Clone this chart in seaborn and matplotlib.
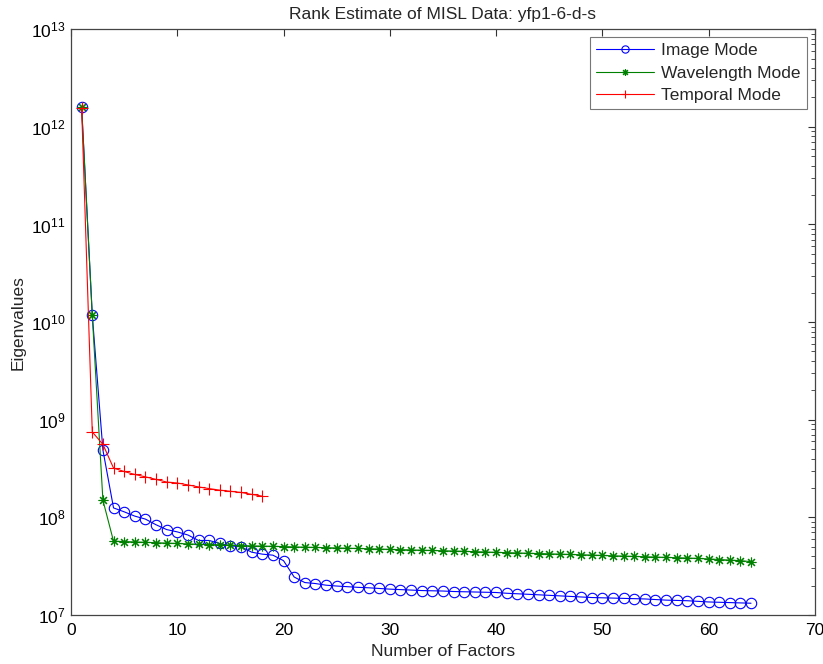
import matplotlib
matplotlib.use("Agg")
import matplotlib.pyplot as plt
import seaborn as sns
import numpy as np
import pandas as pd
from matplotlib.ticker import LogLocator, NullFormatter

# ---- data ----
image_x = list(range(1, 65))
image_vals = [1.58e12, 1.18e10, 4.9e8, 1.25e8, 1.14e8, 1.03e8, 9.6e7, 8.4e7, 7.5e7, 7.1e7,
              6.6e7, 5.8e7, 5.8e7, 5.4e7, 5.1e7, 5.0e7, 4.4e7, 4.2e7, 4.1e7, 3.6e7,
              2.45e7, 2.15e7, 2.1e7, 2.02e7, 1.98e7, 1.95e7, 1.92e7, 1.9e7, 1.87e7, 1.84e7,
              1.82e7, 1.8e7, 1.78e7, 1.77e7, 1.76e7, 1.74e7, 1.73e7, 1.72e7, 1.71e7, 1.7e7,
              1.67e7, 1.65e7, 1.63e7, 1.61e7, 1.59e7, 1.57e7, 1.55e7, 1.53e7, 1.51e7, 1.5e7,
              1.49e7, 1.48e7, 1.47e7, 1.46e7, 1.44e7, 1.42e7, 1.41e7, 1.4e7, 1.38e7, 1.36e7,
              1.35e7, 1.34e7, 1.33e7, 1.32e7]

wave_x = list(range(1, 65))
wave_vals = [1.58e12, 1.18e10, 1.5e8, 5.7e7, 5.65e7, 5.6e7, 5.55e7, 5.5e7, 5.45e7, 5.4e7,
             5.35e7, 5.3e7, 5.27e7, 5.24e7, 5.2e7, 5.15e7, 5.1e7, 5.08e7, 5.05e7, 5.02e7,
             4.98e7, 4.95e7, 4.92e7, 4.89e7, 4.86e7, 4.83e7, 4.8e7, 4.77e7, 4.74e7, 4.7e7,
             4.67e7, 4.64e7, 4.61e7, 4.58e7, 4.55e7, 4.52e7, 4.49e7, 4.45e7, 4.42e7, 4.38e7,
             4.35e7, 4.32e7, 4.29e7, 4.26e7, 4.23e7, 4.2e7, 4.17e7, 4.14e7, 4.11e7, 4.07e7,
             4.04e7, 4.01e7, 3.98e7, 3.95e7, 3.92e7, 3.89e7, 3.86e7, 3.83e7, 3.8e7, 3.75e7,
             3.7e7, 3.65e7, 3.6e7, 3.52e7]

temp_x = list(range(1, 19))
temp_vals = [1.55e12, 7.5e8, 5.6e8, 3.2e8, 2.95e8, 2.75e8, 2.6e8, 2.45e8, 2.3e8, 2.25e8,
             2.15e8, 2.05e8, 1.97e8, 1.9e8, 1.85e8, 1.8e8, 1.72e8, 1.65e8]

labels = ["Image Mode", "Wavelength Mode", "Temporal Mode"]
title = "Rank Estimate of MISL Data: yfp1-6-d-s"
xlabel = "Number of Factors"
ylabel = "Eigenvalues"
xticks = [0, 10, 20, 30, 40, 50, 60, 70]

# ---- style ----
sns.set_style("white")
plt.rcParams['font.family'] = ['Liberation Sans', 'DejaVu Sans']
plt.rcParams['mathtext.fontset'] = 'custom'
plt.rcParams['mathtext.rm'] = 'Liberation Sans'
plt.rcParams['mathtext.it'] = 'Liberation Sans:italic'

FS = 12.5
BLUE = (0, 0, 1)
GREEN = (0, 0.5, 0)
RED = (1, 0, 0)

fig = plt.figure(figsize=(8.23, 6.64), dpi=100)
ax = fig.add_axes([0.0863, 0.0738, 0.9037, 0.8822])

df_i = pd.DataFrame({"x": image_x, "y": image_vals})
df_w = pd.DataFrame({"x": wave_x, "y": wave_vals})
df_t = pd.DataFrame({"x": temp_x, "y": temp_vals})

sns.lineplot(data=df_i, x="x", y="y", ax=ax, color=BLUE, lw=0.8, marker="o",
             markersize=7.5, markerfacecolor="none", markeredgecolor=BLUE,
             markeredgewidth=0.8, label=labels[0])
sns.lineplot(data=df_w, x="x", y="y", ax=ax, color=GREEN, lw=0.8, marker=(8, 2, 0),
             markersize=7, markerfacecolor=GREEN, markeredgecolor=GREEN,
             markeredgewidth=0.8, label=labels[1])
sns.lineplot(data=df_t, x="x", y="y", ax=ax, color=RED, lw=0.8, marker="+",
             markersize=9, markeredgecolor=RED, markeredgewidth=0.8, label=labels[2])

ax.set_yscale("log")
ax.set_xlim(0, 70)
ax.set_ylim(1e7, 1e13)
ax.set_xticks(xticks)
ax.set_xticklabels([str(t) for t in xticks])
ax.yaxis.set_major_locator(LogLocator(base=10, numticks=20))
ax.yaxis.set_minor_locator(LogLocator(base=10, subs=np.arange(2, 10), numticks=50))
ax.yaxis.set_minor_formatter(NullFormatter())
ax.xaxis.offsetText.set_visible(False)
ax.yaxis.offsetText.set_visible(False)

ax.tick_params(axis="both", which="both", direction="in", top=True, right=True,
               labelsize=FS, colors="#333333", labelcolor="black")
ax.tick_params(axis="both", which="major", length=5, width=0.8)
ax.tick_params(axis="x", which="major", pad=6)
ax.tick_params(axis="y", which="major", pad=4)
ax.tick_params(axis="y", which="minor", length=3, width=0.6)
for s in ax.spines.values():
    s.set_color("#444444")
    s.set_linewidth(0.9)

ax.set_title(title, fontsize=FS, pad=7)
ax.set_xlabel(xlabel, fontsize=FS, labelpad=4)
ax.set_ylabel(ylabel, fontsize=FS, labelpad=4)

leg = ax.legend(loc="upper right", fontsize=FS, frameon=True, fancybox=False,
                edgecolor="#555555", borderpad=0.35, handlelength=3.3,
                labelspacing=0.42, borderaxespad=0.45, handletextpad=0.45,
                markerscale=0.7)
leg.get_frame().set_linewidth(0.8)

fig.savefig("out.png", dpi=100)
